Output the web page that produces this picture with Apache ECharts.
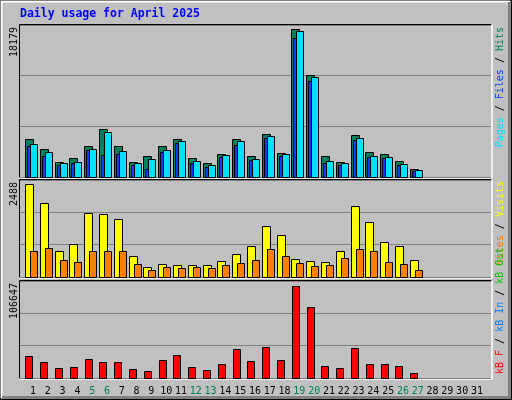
<!DOCTYPE html>
<html><head><meta charset="utf-8">
<script src="https://cdn.jsdelivr.net/npm/echarts@6/dist/echarts.min.js"></script>
<style>html,body{margin:0;padding:0;background:#c0c0c0}#c{width:512px;height:400px}</style>
</head><body><div id="c"></div>
<script>
const days = Array.from({length:31},(_,i)=>i+1);
const weekendDays = [5,6,12,13,19,20,26,27];
const hits  = [4606,3496,1892,2385,3784,5840,3866,1892,2550,3784,4606,2385,1769,2879,4606,2550,5223,3002,18179,12503,2550,1892,5100,3126,2879,2015,1028];
const files = [4113,3126,1769,1892,3496,5470,3249,1769,2262,3373,4360,2015,1522,2756,4360,2262,4977,2879,17932,12256,2015,1769,4730,2632,2509,1645,905];
const pages = [3784,2632,1522,1769,3373,2756,2879,1522,1028,3126,4236,1769,1275,2509,3990,2139,4730,2632,17068,11763,1769,1522,4483,2509,2385,1522,781];
const visits= [2488,1976,710,898,1707,1680,1545,575,278,359,332,332,332,440,629,844,1383,1141,494,440,413,710,1895,1464,952,844,467];
const sites = [710,790,467,413,710,710,710,359,198,278,251,278,251,332,386,467,763,575,386,305,332,521,763,710,413,359,198];
const kbytes= [25300,19072,12066,13234,22575,19072,19072,10898,8563,21407,27246,13234,9731,16737,34252,20240,36587,21407,106647,82126,14401,12066,35420,16737,16737,14401,6228];
const maxLabels = ['18179','2488','106647'];

const chart = echarts.init(document.getElementById('c'));
const mono = 'DejaVu Sans Mono';
const grids = [{top:25,height:152},{top:180,height:97},{top:281,height:97}].map(g=>({left:20,width:471,top:g.top,height:g.height}));
const maxes = [18179/0.974, 2488/0.955, 106647/0.945];
function xAx(i, show){return {type:'value',gridIndex:i,min:0.122,max:31.95,
  axisLine:{show:false},axisTick:{show:false},splitLine:{show:false},
  axisLabel:{show:show,customValues:days,margin:8,fontFamily:mono,fontSize:10,
    formatter:v=>weekendDays.includes(v)?'{w|'+v+'}':'{n|'+v+'}',
    rich:{w:{color:'#00805c',fontFamily:mono,fontSize:10},n:{color:'#000',fontFamily:mono,fontSize:10}}}};}
function yAx(i){return {type:'value',gridIndex:i,min:0,max:maxes[i],interval:maxes[i]/3,
  axisLine:{show:false},axisTick:{show:false},axisLabel:{show:false},
  splitLine:{show:true,lineStyle:{color:'#808080',width:1}}};}
function barSeries(i,data,color,off,w){
  return {type:'custom',xAxisIndex:i,yAxisIndex:i,
    data:data.map((v,k)=>[k+1,v]),
    renderItem:(p,api)=>{const x=api.value(0),y=api.value(1);
      const top=api.coord([x,y]),base=api.coord([x,0]);
      return {type:'rect',shape:{x:Math.round(top[0]+off-w/2)+0.5,y:Math.round(top[1])+0.5,width:w,height:Math.round(base[1]-top[1])},
        style:{fill:color,stroke:'#000',lineWidth:1}};}};
}
function vtext(x,y,parts,align){ // rotated text reading bottom-to-top
  const rich={};let s='';
  parts.forEach((p,j)=>{rich['p'+j]={fill:p[1],fontFamily:mono,fontSize:10};s+='{p'+j+'|'+p[0]+'}';});
  return {type:'text',x:x,y:y,rotation:Math.PI/2,style:{text:s,rich:rich,align:align,verticalAlign:'middle',fontFamily:mono,fontSize:10}};
}
const frames=[];
grids.forEach(g=>{
  frames.push({type:'line',shape:{x1:g.left-0.5,y1:g.top-0.5,x2:g.left+g.width+0.5,y2:g.top-0.5},style:{stroke:'#000',lineWidth:1}});
  frames.push({type:'line',shape:{x1:g.left-0.5,y1:g.top-0.5,x2:g.left-0.5,y2:g.top+g.height+0.5},style:{stroke:'#000',lineWidth:1}});
  frames.push({type:'line',shape:{x1:g.left-0.5,y1:g.top+g.height+1,x2:g.left+g.width+1,y2:g.top+g.height+1},style:{stroke:'#fff',lineWidth:1.5}});
  frames.push({type:'line',shape:{x1:g.left+g.width+1,y1:g.top-0.5,x2:g.left+g.width+1,y2:g.top+g.height+1},style:{stroke:'#fff',lineWidth:1.5}});
});
chart.setOption({
  backgroundColor:'#c0c0c0',animation:false,
  grid:grids,
  xAxis:[xAx(0,false),xAx(1,false),xAx(2,true)],
  yAxis:[yAx(0),yAx(1),yAx(2)],
  series:[
    barSeries(0,hits,'#00805c',-4,8),
    barSeries(0,pages,'#0040ff',-2,8),
    barSeries(0,files,'#00e0ff',0.5,7),
    barSeries(1,visits,'#ffff00',-4,8),
    barSeries(1,sites,'#ff8000',0.5,7),
    barSeries(2,kbytes,'#ff0000',-4,7)
  ],
  graphic:[
    {type:'rect',shape:{x:0.5,y:0.5,width:511,height:399},style:{fill:null,stroke:'#000',lineWidth:1}},
    {type:'polyline',shape:{points:[[1.5,398],[1.5,1.5],[510,1.5]]},style:{stroke:'#fff',lineWidth:2,fill:null}},
    {type:'polyline',shape:{points:[[2,397.5],[509.5,397.5],[509.5,2]]},style:{stroke:'#808080',lineWidth:3,fill:null}},
    {type:'text',x:20,y:8,style:{text:'Daily usage for April 2025',fill:'#0000ff',fontFamily:mono,fontWeight:'bold',fontSize:11.5}},
    ...frames,
    vtext(14,27,[[maxLabels[0],'#000']],'right'),
    vtext(14,182,[[maxLabels[1],'#000']],'right'),
    vtext(14,283,[[maxLabels[2],'#000']],'right'),
    vtext(500,27,[['Pages','#00e0ff'],[' / ','#000'],['Files','#0040ff'],[' / ','#000'],['Hits','#00805c']],'right'),
    vtext(500,181,[['Sites','#ff8000'],[' / ','#000'],['Visits','#ffff00']],'right'),
    vtext(500,374,[['kB F','#ff0000'],[' / ','#000'],['kB In','#0080ff'],[' / ','#000'],['kB Out','#00c000']],'left')
  ]
});
</script></body></html>
